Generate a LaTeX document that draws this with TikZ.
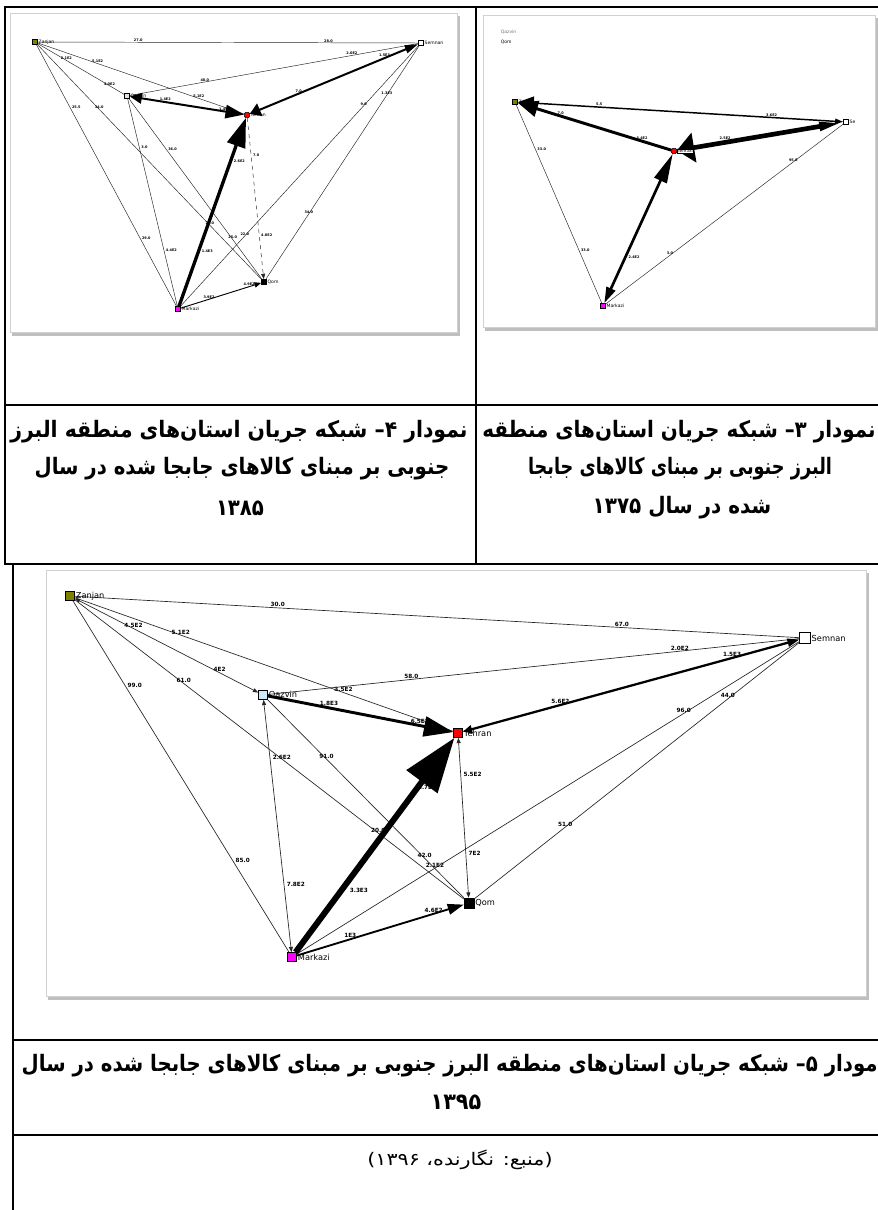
\documentclass[tikz,border=0pt]{standalone}
\usepackage{fontspec}
\usepackage{graphicx}
\usetikzlibrary{arrows.meta}
\TeXXeTstate=1
\setmainfont{DejaVu Sans}
\newfontfamily\arabicfont[Script=Arabic]{DejaVu Sans}
\newfontfamily\lblfont{DejaVu Sans}
\newcommand\zw{^^^^200c}
\newcommand\fawide[2]{\resizebox{#1}{\height}{\arabicfont\bfseries\fontsize{17}{19}\selectfont #2}}
\newcommand\fanorm[2]{\resizebox{#1}{\height}{\arabicfont\fontsize{13}{15}\selectfont #2}}
\definecolor{zcol}{RGB}{128,128,0}
\definecolor{qcol}{RGB}{205,232,248}
\definecolor{tcol}{RGB}{255,0,0}
\definecolor{kcol}{RGB}{255,0,255}
\tikzset{
  tbl/.style={line width=1.1pt, line cap=rect},
  imgframe/.style={draw=black!18, fill=white, line width=0.6pt},
  imgshadow/.style={fill=black!25},
  sq/.style={rectangle, draw=black, line width=0.4pt, inner sep=0pt},
  nb/.style={sq, minimum size=6.8pt},
  ns/.style={sq, minimum size=4pt, line width=0.3pt},
  nlb/.style={font=\lblfont\fontsize{6.2}{7}\selectfont, inner sep=0.6pt, anchor=west},
  nlt/.style={font=\lblfont\fontsize{3.4}{4}\selectfont, inner sep=0.4pt, anchor=west},
  elb/.style={font=\lblfont\bfseries\fontsize{4.3}{5}\selectfont, inner sep=0.4pt, anchor=south},
  elbr/.style={elb, anchor=west, xshift=1.5pt},
  elt/.style={font=\lblfont\bfseries\fontsize{2.6}{3}\selectfont, inner sep=0.3pt, anchor=south},
  eltr/.style={elt, anchor=west, xshift=1pt},
  tb/.style={line width=0.5pt, draw=black!85},
  tt/.style={line width=0.35pt, draw=black!85},
  tinyboth/.style={{Triangle[length=4pt,width=3pt]}-{Triangle[length=4pt,width=3pt]}},
  capn/.style={inner sep=0pt},
}
\begin{document}
\begin{tikzpicture}[x=0.75pt,y=-0.75pt]
\useasboundingbox (0,0) rectangle (878,1210);
\fill[white] (0,0) rectangle (878,1210);

% ---------- image frames ----------
\fill[imgshadow] (12,16) rectangle (460,336);
\filldraw[imgframe] (10,13) rectangle (457,332);
\fill[imgshadow] (485,18) rectangle (878,331);
\filldraw[imgframe] (483,15) rectangle (875,327);
\fill[imgshadow] (48,573) rectangle (869,1000);
\filldraw[imgframe] (46,570) rectangle (866,996);

% ---------- table lines ----------
\draw[tbl] (5,7) -- (878,7);
\draw[tbl] (5,7) -- (5,564);
\draw[tbl] (476,7) -- (476,564);
\draw[tbl] (5,405) -- (878,405);
\draw[tbl] (5,564) -- (878,564);
\draw[tbl] (13,564) -- (13,1210);
\draw[tbl] (13,1040) -- (878,1040);
\draw[tbl] (13,1135) -- (878,1135);

% ================= top-left graph (1385) =================
\node[ns, fill=zcol] (Z4) at (35,42) {};
\node[ns, fill=white] (S4) at (421,43) {};
\node[ns, fill=qcol] (Q4) at (127,96) {};
\node[ns, fill=tcol, rounded corners=1pt] (T4) at (247,115) {};
\node[ns, fill=black] (M4) at (264,282) {};
\node[ns, fill=kcol] (K4) at (178,309) {};

\draw[tt] (Z4) -- (S4) node[elt,pos=.264]{27.0} node[elt,pos=.764]{28.0};
\draw[tt] (Z4) -- (T4) node[elt,pos=.29]{5.1E2} node[elt,pos=.78]{5.1E2};
\draw[tt] (Z4) -- (Q4) node[elt,pos=.33]{2.1E2} node[elt,pos=.83]{4.0E2};
\draw[tt] (Z4) -- (M4) node[elt,pos=.275]{34.0} node[elt,pos=.77]{21.0};
\draw[tt] (Z4) -- (K4) node[eltr,pos=.24]{25.5} node[eltr,pos=.74]{29.0};
\draw[tt] (Q4) -- (S4) node[elt,pos=.26]{40.0} node[elt,pos=.77]{2.0E2};
\draw[tt] (Q4) -- (M4) node[eltr,pos=.28]{36.0} node[elt,pos=.78]{25.0};
\draw[tt] (Q4) -- (K4) node[eltr,pos=.235]{3.0} node[eltr,pos=.73]{4.4E2};
\draw[tt] (K4) -- (S4) node[elt,pos=.27]{22.0} node[elt,pos=.77]{9.0};
\draw[tt] (M4) -- (S4) node[elt,pos=.28]{34.0} node[elt,pos=.79]{1.3E3};
\draw[tt, dashed, -{Triangle[length=4pt,width=3pt]}] (T4) -- (M4) node[eltr,pos=.23]{7.0} node[eltr,pos=.73]{4.8E2};
\draw[line width=0.7pt, -{Triangle[length=5pt,width=4pt]}] (K4) -- (M4) node[elt,pos=.35]{3.9E2} node[elt,pos=.85]{4.9E2};
\draw[line width=1.5pt, {Triangle[length=9pt,width=8pt]}-{Triangle[length=14pt,width=10pt]}] (Q4) -- (T4) node[elt,pos=.31]{1.4E2} node[elt,pos=.83]{1.4E3};
\draw[line width=1.5pt, {Triangle[length=8pt,width=10pt]}-{Triangle[length=10pt,width=6pt]}] (T4) -- (S4) node[elt,pos=.29]{7.0} node[elt,pos=.80]{1.5E3};
\draw[line width=2.5pt, -{Triangle[length=22pt,width=14pt]}] (K4) -- (T4) node[eltr,pos=.29]{1.4E3} node[eltr,pos=.77]{2.6E2};

\node[nlt] (Z4l) at (Z4.east) {Zanjan};
\node[nlt] (S4l) at (S4.east) {Semnan};
\node[nlt] (Q4l) at (Q4.east) {Qazvin};
\node[nlt] (T4l) at (T4.east) {Tehran};
\node[nlt] (M4l) at (M4.east) {Qom};
\node[nlt] (K4l) at (K4.east) {Markazi};

% ================= top-right graph (1375) =================
\node[nlt, text=black!55] (Qz3) at (500,32) {Qazvin};
\node[nlt] (Qm3) at (500,42) {Qom};
\node[ns, fill=zcol] (Z3) at (515,102) {};
\node[ns, fill=white] (S3) at (846,122) {};
\node[ns, fill=tcol, rounded corners=1pt] (T3) at (674,151) {};
\node[ns, fill=kcol] (K3) at (603,306) {};

\draw[tt] (Z3) -- (K3) node[eltr,pos=.225]{33.0} node[eltr,pos=.735]{33.0};
\draw[tt] (K3) -- (S3) node[elt,pos=.27]{3.0} node[elt,pos=.79]{95.0};
\draw[line width=1.1pt, {Triangle[length=12pt,width=10pt]}-{Triangle[length=6pt,width=4pt]}] (Z3) -- (S3) node[elt,pos=.25]{5.5} node[elt,pos=.78]{3.6E2};
\draw[line width=2.2pt, -{Triangle[length=15pt,width=12pt]}] (T3) -- (Z3) node[elt,pos=.19]{3.4E2} node[elt,pos=.72]{7.0};
\draw[line width=3.5pt, {Triangle[length=18pt,width=6pt]}-{Triangle[length=13pt,width=22pt]}] (S3) -- (T3) node[elt,pos=.71]{2.5E2};
\draw[line width=2pt, {Triangle[length=12pt,width=7pt]}-{Triangle[length=22pt,width=10pt]}] (K3) -- (T3) node[eltr,pos=.31]{2.4E2};

\node[nlt] (Z3l) at (Z3.east) {Zanjan};
\node[nlt] (S3l) at (S3.east) {Se};
\node[nlt, fill=white, draw=black, line width=0.2pt] (T3l) at (T3.east) {Tehran};
\node[nlt] (K3l) at (K3.east) {Markazi};

% ================= bottom graph (1395) =================
\node[nb, fill=zcol] (Z) at (70,596) {};
\node[nb, fill=white, minimum size=8pt] (S) at (805,638) {};
\node[nb, fill=qcol] (Q) at (263,695) {};
\node[nb, fill=tcol] (T) at (458,733) {};
\node[nb, fill=black, minimum size=7.5pt] (M) at (469,903) {};
\node[nb, fill=kcol] (K) at (292,957) {};

\draw[tb] (Z) -- (S) node[elb,pos=.28]{30.0} node[elb,pos=.755]{67.0};
\draw[tb] (Z) -- (T) node[elb,pos=.28]{5.1E2} node[elb,pos=.71]{3.5E2};
\draw[tb, tinyboth] (Z) -- (Q) node[elb,pos=.32]{4.5E2} node[elb,pos=.79]{4E2};
\draw[tb] (Z) -- (M) node[elb,pos=.28]{61.0} node[elb,pos=.78]{20.0};
\draw[tb] (Z) -- (K) node[elbr,pos=.24]{99.0} node[elbr,pos=.74]{85.0};
\draw[tb] (Q) -- (S) node[elb,pos=.27]{58.0} node[elb,pos=.775]{2.0E2};
\draw[tb] (Q) -- (M) node[elb,pos=.30]{91.0} node[elb,pos=.80]{42.0};
\draw[tb, tinyboth] (Q) -- (K) node[elbr,pos=.23]{2.6E2} node[elbr,pos=.73]{7.8E2};
\draw[tb, tinyboth] (T) -- (M) node[elbr,pos=.23]{5.5E2} node[elbr,pos=.72]{7E2};
\draw[tb] (K) -- (S) node[elb,pos=.275]{2.1E2} node[elb,pos=.77]{96.0};
\draw[tb] (M) -- (S) node[elb,pos=.28]{51.0} node[elb,pos=.78]{44.0};
\draw[line width=1.7pt, {Triangle[length=7pt,width=6pt]}-{Triangle[length=9pt,width=6pt]}] (T) -- (S) node[elb,pos=.29]{5.6E2} node[elb,pos=.80]{1.5E3};
\draw[line width=1.4pt, -{Triangle[length=12pt,width=8pt]}] (K) -- (M) node[elb,pos=.32]{1E3} node[elb,pos=.82]{4.6E2};
\draw[line width=2.2pt, -{Triangle[length=22pt,width=15pt]}] (Q) -- (T) node[elb,pos=.33]{1.8E3} node[elb,pos=.82]{6.5E2};
\path (K) -- (T) node[elbr,pos=.77,xshift=-2pt]{4.7E2};
\draw[line width=4.5pt, -{Triangle[length=41pt,width=28pt]}] (K) -- (T) node[elbr,pos=.29,xshift=2pt]{3.3E3};

\node[nlb] (Zl) at (Z.east) {Zanjan};
\node[nlb] (Sl) at (S.east) {Semnan};
\node[nlb] (Ql) at (Q.east) {Qazvin};
\node[nlb] (Tl) at (T.east) {Tehran};
\node[nlb] (Ml) at (M.east) {Qom};
\node[nlb] (Kl) at (K.east) {Markazi};

% ================= captions =================
\node[capn] (c4a) at (239,432) {\fawide{343pt}{\beginR نمودار ۴\kern0pt– شبکه جریان استان\zw های منطقه البرز\endR}};
\node[capn] (c4b) at (242,469) {\fawide{311pt}{\beginR جنوبی بر مبنای کالاهای جابجا شده در سال\endR}};
\node[capn] (c4c) at (240,508) {\fawide{36pt}{۱۳۸۵}};

\node[capn] (c3a) at (679,432) {\fawide{295pt}{\beginR نمودار ۳\kern0pt– شبکه جریان استان\zw های منطقه\endR}};
\node[capn] (c3b) at (680,469) {\fawide{228pt}{\beginR البرز جنوبی بر مبنای کالاهای جابجا\endR}};
\node[capn] (c3c) at (682,508) {\fawide{134pt}{\beginR شده در سال ۱۳۷۵\endR}};

\node[capn, anchor=east] (c5a) at (878,1066) {\fawide{642pt}{\beginR مودار ۵\kern0pt– شبکه جریان استان\zw های منطقه البرز جنوبی بر مبنای کالاهای جابجا شده در سال\endR}};
\node[capn] (c5b) at (456,1102) {\fawide{38pt}{۱۳۹۵}};
\node[capn] (src) at (460,1160) {\fanorm{139pt}{\beginR(\kern0pt منبع\kern0pt: نگارنده\kern0pt، ۱۳۹۶\kern0pt)\endR}};
\end{tikzpicture}
\end{document}
